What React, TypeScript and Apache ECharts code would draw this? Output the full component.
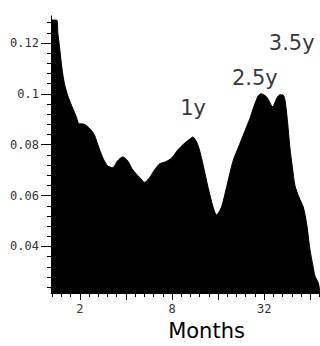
import React, { useEffect, useRef } from "react";
import * as echarts from "echarts";

// Curve: months (log-2 axis) and value
const months = [
  1.296, 1.414, 1.436, 1.473, 1.511, 1.548, 1.588, 1.669, 1.8, 1.894, 1.976,
  2.083, 2.203, 2.375, 2.496, 2.623, 2.829, 3.036, 3.274, 3.53, 3.807, 4.104,
  4.425, 4.918, 5.303, 5.717, 6.164, 6.647, 7.276, 7.964, 8.718, 9.544, 10.446,
  10.93, 11.608, 12.145, 12.764, 13.763, 14.84, 15.62, 16.843, 18.16, 20.06,
  21.63, 23.92, 25.8, 27.11, 29.23, 30.45, 33.19, 36.32, 38.75, 40.54, 42.42,
  43.71, 45.26, 47.14, 48.94, 50.82, 53.98, 57.61, 60.63, 63.71, 66.66, 68.7,
  72.21, 74.1,
];
const values = [
  0.129, 0.129, 0.124, 0.1186, 0.1124, 0.1077, 0.1039, 0.0992, 0.0942, 0.0911,
  0.0882, 0.0882, 0.0876, 0.0857, 0.0837, 0.08, 0.0748, 0.0717, 0.071, 0.0737,
  0.0752, 0.0737, 0.0702, 0.0671, 0.0652, 0.0671, 0.0702, 0.0725, 0.0733,
  0.0748, 0.0779, 0.0803, 0.0822, 0.083, 0.081, 0.0775, 0.0721, 0.0632, 0.0555,
  0.0524, 0.0555, 0.0632, 0.0737, 0.0787, 0.0853, 0.0903, 0.0942, 0.0992, 0.1,
  0.0988, 0.095, 0.0984, 0.0996, 0.0996, 0.0977, 0.0903, 0.0787, 0.071, 0.064,
  0.0594, 0.0555, 0.0489, 0.0388, 0.0323, 0.0284, 0.0257, 0.0217,
];

// Axis ranges and ticks
const xMinMonths = 1.296;
const xMaxMonths = 74.1;
const yMin = 0.0217;
const yMax = 0.1306;
const xTickMonths = [2, 4, 8, 16, 32, 64];
const xLabelMonths = [2, 8, 32];
const yTickValues = [0.04, 0.06, 0.08, 0.1, 0.12];

// Annotations
const annotationTexts = ["1y", "2.5y", "3.5y"];
const annotationMonths = [10.98, 27.8, 48.4];
const annotationValues = [0.0945, 0.1061, 0.1201];

const axisTitle = "Months";

export default function App() {
  const ref = useRef<HTMLDivElement>(null);

  useEffect(() => {
    if (!ref.current) return;
    const chart = echarts.init(ref.current, undefined, { renderer: "svg" });
    const lg = (m: number) => Math.log2(m);
    const tickFont = {
      fontFamily: "DejaVu Sans Mono",
      fontSize: 12,
      color: "#333",
    };
    chart.setOption({
      animation: false,
      grid: { left: 51, right: 0, top: 16, bottom: 49 },
      xAxis: {
        type: "value",
        min: lg(xMinMonths),
        max: lg(xMaxMonths),
        splitLine: { show: false },
        axisLine: { show: true, lineStyle: { color: "#000", width: 1 } },
        axisTick: {
          show: true,
          length: 7,
          customValues: xTickMonths.map(lg),
          lineStyle: { color: "#000" },
        },
        minorTick: {
          show: true,
          splitNumber: 5,
          length: 4,
          lineStyle: { color: "#000" },
        },
        axisLabel: {
          customValues: xLabelMonths.map(lg),
          formatter: (v: number) => String(Math.round(Math.pow(2, v))),
          margin: 10,
          ...tickFont,
        },
        name: axisTitle,
        nameLocation: "middle",
        nameGap: 27,
        nameTextStyle: {
          fontFamily: "DejaVu Sans",
          fontSize: 21,
          color: "#000",
          padding: [0, 0, 0, 42],
        },
      },
      yAxis: {
        type: "value",
        min: yMin,
        max: yMax,
        splitLine: { show: false },
        axisLine: { show: true, lineStyle: { color: "#000", width: 1 } },
        axisTick: {
          show: true,
          length: 10,
          customValues: yTickValues,
          lineStyle: { color: "#000" },
        },
        minorTick: {
          show: true,
          splitNumber: 5,
          length: 4,
          lineStyle: { color: "#000" },
        },
        axisLabel: {
          customValues: yTickValues,
          margin: 12,
          ...tickFont,
        },
      },
      series: [
        {
          type: "line",
          data: months.map((m, i) => [lg(m), values[i]]),
          showSymbol: false,
          smooth: 0.25,
          lineStyle: { color: "#000", width: 1 },
          areaStyle: { color: "#000", opacity: 1, origin: "start" },
          itemStyle: { color: "#000" },
          clip: true,
          z: 2,
        },
        {
          type: "scatter",
          data: annotationMonths.map((m, i) => [lg(m), annotationValues[i]]),
          symbolSize: 0,
          silent: true,
          label: {
            show: true,
            position: "inside",
            formatter: (p: any) => annotationTexts[p.dataIndex],
            fontFamily: "DejaVu Sans",
            fontSize: 21,
            color: "#000",
          },
          z: 3,
        },
      ],
    });
    return () => chart.dispose();
  }, []);

  return (
    <div
      ref={ref}
      style={{ position: "absolute", left: 0, top: 0, width: 320, height: 346 }}
    />
  );
}
